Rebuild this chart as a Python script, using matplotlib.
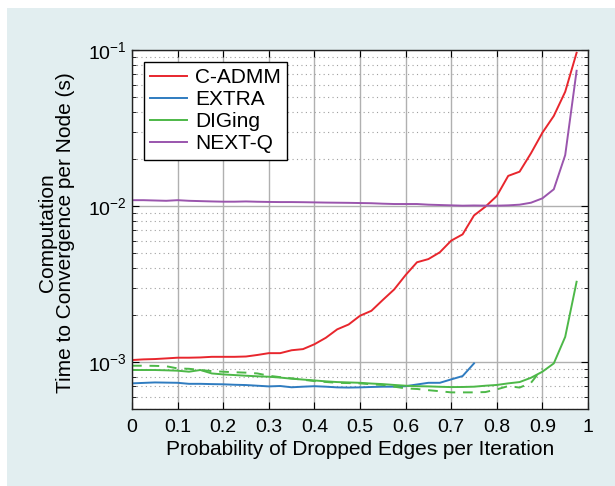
import numpy as np
import matplotlib
matplotlib.use("Agg")
import matplotlib.pyplot as plt
from matplotlib.patches import Rectangle
from matplotlib.ticker import LogLocator, FixedLocator, NullFormatter

plt.rcParams.update({"font.family": ["Liberation Sans", "DejaVu Sans"], "font.size": 14,
                     "mathtext.fontset": "custom", "mathtext.rm": "Liberation Sans"})

# data (time in seconds)
x_full = np.round(np.arange(0, 1.0, 0.025), 3)
cadmm = [1.03, 1.04, 1.045, 1.055, 1.066, 1.066, 1.07, 1.08, 1.08, 1.08,
         1.085, 1.11, 1.14, 1.14, 1.19, 1.21, 1.30, 1.43, 1.62, 1.74,
         1.98, 2.13, 2.50, 2.92, 3.61, 4.36, 4.57, 5.05, 6.0, 6.58,
         8.7, 9.9, 11.6, 15.6, 16.6, 21.8, 29.5, 37.8, 54.0, 96.0]
nextq = [10.9, 10.9, 10.85, 10.8, 10.9, 10.8, 10.75, 10.7, 10.66, 10.66,
         10.7, 10.65, 10.62, 10.6, 10.6, 10.58, 10.55, 10.52, 10.5, 10.48,
         10.45, 10.42, 10.35, 10.3, 10.3, 10.3, 10.2, 10.15, 10.1, 10.05,
         10.08, 10.06, 10.05, 10.1, 10.2, 10.5, 11.2, 12.8, 21.2, 73.6]
x_extra = x_full[:31]
extra = [7.30, 7.35, 7.40, 7.38, 7.36, 7.25, 7.25, 7.22, 7.20, 7.15,
         7.12, 7.05, 6.98, 7.02, 6.89, 6.95, 7.00, 6.95, 6.88, 6.86,
         6.88, 6.92, 6.95, 6.95, 7.00, 7.18, 7.36, 7.36, 7.74, 8.13, 9.8]
diging = [8.89, 8.89, 8.89, 8.85, 8.80, 8.67, 8.89, 8.45, 8.33, 8.25,
          8.17, 8.10, 8.05, 7.95, 7.82, 7.72, 7.62, 7.52, 7.44, 7.40,
          7.36, 7.28, 7.22, 7.13, 7.05, 7.00, 6.98, 6.94, 6.91, 6.92,
          6.95, 7.05, 7.13, 7.30, 7.44, 7.93, 8.67, 9.8, 14.5, 32.7]
x_dash = x_full[:37]
diging_dash = [9.47, 9.47, 9.45, 9.40, 9.10, 9.05, 8.89, 8.75, 8.67, 8.60,
               8.55, 8.45, 8.17, 8.0, 7.86, 7.70, 7.55, 7.45, 7.36, 7.33,
               7.30, 7.20, 7.13, 6.95, 6.78, 6.72, 6.60, 6.50, 6.39, 6.39,
               6.39, 6.42, 6.68, 7.01, 6.86, 7.36, 9.1]

RED, BLUE, GREEN, PURPLE = "#e8262d", "#2f7cc0", "#4db848", "#9a55ad"
PANEL = "#e2eef0"

fig = plt.figure(figsize=(6.15, 4.86), dpi=100, facecolor="white")
fig.patches.append(Rectangle((7 / 615, 0), 1, 1 - 8 / 486, transform=fig.transFigure,
                             facecolor=PANEL, edgecolor="none", zorder=-10))
ax = fig.add_axes([132 / 615, 1 - 409 / 486, 456 / 615, 359 / 486])
ax.set_facecolor("white")

lw = 1.4
ax.plot(x_full, np.array(cadmm) * 1e-3, color=RED, lw=lw, label="C-ADMM")
ax.plot(x_extra, np.array(extra) * 1e-4, color=BLUE, lw=lw, label="EXTRA")
ax.plot(x_full, np.array(diging) * 1e-4, color=GREEN, lw=lw, label="DIGing")
ax.plot(x_dash, np.array(diging_dash) * 1e-4, color=GREEN, lw=lw, ls=(0, (5, 4)))
ax.plot(x_full, np.array(nextq) * 1e-3, color=PURPLE, lw=lw, label="NEXT-Q")

ax.set_yscale("log")
ax.set_xlim(0, 1)
ax.set_ylim(5e-4, 1e-1)
ax.set_xticks(np.round(np.arange(0, 1.01, 0.1), 1))
ax.set_xticklabels(["0", "0.1", "0.2", "0.3", "0.4", "0.5", "0.6", "0.7", "0.8", "0.9", "1"])
ax.yaxis.set_major_locator(FixedLocator([1e-3, 1e-2, 1e-1]))
ax.yaxis.set_minor_locator(LogLocator(base=10, subs=np.arange(2, 10), numticks=20))
ax.yaxis.set_minor_formatter(NullFormatter())

ax.grid(True, which="major", color="#b0b0b0", lw=1.0, ls="-")
ax.grid(True, which="minor", axis="y", color="#a0a0a0", lw=0.8, ls=(0, (1, 3)))
ax.set_axisbelow(True)
ax.tick_params(which="both", direction="in", top=True, right=True, labelsize=14)
ax.tick_params(axis="x", pad=7)
ax.tick_params(axis="y", pad=4)
ax.tick_params(which="major", length=5)
ax.tick_params(which="minor", length=3)
for s in ax.spines.values():
    s.set_linewidth(1.0)
    s.set_color("#222222")

ax.set_xlabel("Probability of Dropped Edges per Iteration", fontsize=15, labelpad=3)
ax.set_ylabel("Computation\nTime to Convergence per Node (s)", fontsize=15,
              linespacing=0.95)
ax.yaxis.set_label_coords(-0.125, 0.49)

leg = ax.legend(loc="upper left", bbox_to_anchor=(0.026, 0.967), borderaxespad=0,
                fontsize=15, handlelength=1.75, handletextpad=0.4, labelspacing=0.15,
                fancybox=False, framealpha=1, edgecolor="black", borderpad=0.3)
leg.get_frame().set_linewidth(1.0)

fig.savefig("out.png", dpi=100, facecolor=fig.get_facecolor())
